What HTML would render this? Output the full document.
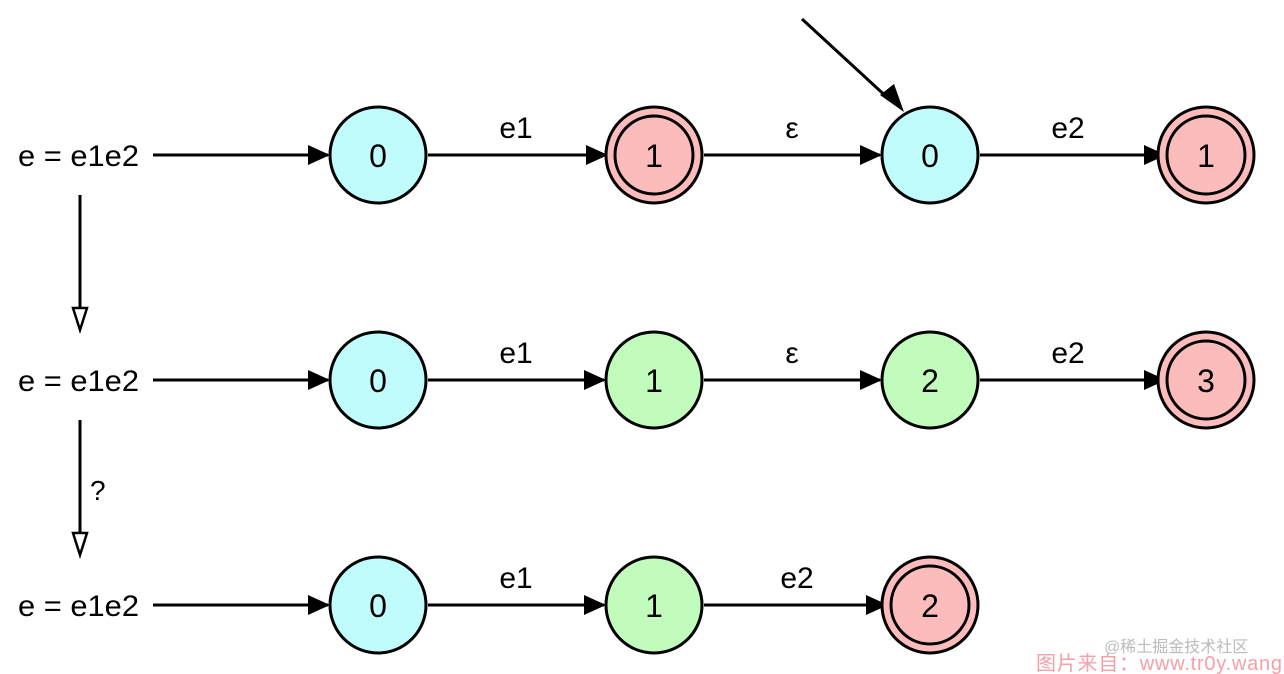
<!DOCTYPE html>
<html><head><meta charset="utf-8"><style>
html,body{margin:0;padding:0;background:#fff;}
svg{display:block;}
text{font-family:"Liberation Sans","Noto Sans CJK SC",sans-serif;}
</style></head><body>
<svg width="1284" height="674" viewBox="0 0 1284 674" xmlns="http://www.w3.org/2000/svg">
<g stroke="#000" stroke-width="3" fill="none">
<line x1="153" y1="155" x2="328" y2="155"/>
<line x1="428" y1="155" x2="604" y2="155"/>
<line x1="704" y1="155" x2="880" y2="155"/>
<line x1="980" y1="155" x2="1160" y2="155"/>
<line x1="153" y1="380" x2="328" y2="380"/>
<line x1="428" y1="380" x2="604" y2="380"/>
<line x1="704" y1="380" x2="880" y2="380"/>
<line x1="980" y1="380" x2="1160" y2="380"/>
<line x1="153" y1="605" x2="328" y2="605"/>
<line x1="428" y1="605" x2="604" y2="605"/>
<line x1="704" y1="605" x2="884" y2="605"/>
<line x1="802" y1="19" x2="890" y2="100"/>
<line x1="80" y1="195" x2="80" y2="310"/>
<line x1="80" y1="420" x2="80" y2="535"/>
</g>
<g fill="#000">
<path d="M308,145 L330,155 L308,165z"/>
<path d="M586,145 L608,155 L586,165z"/>
<path d="M860,145 L882,155 L860,165z"/>
<path d="M1144,145 L1166,155 L1144,165z"/>
<path d="M308,370 L330,380 L308,390z"/>
<path d="M584,370 L606,380 L584,390z"/>
<path d="M860,370 L882,380 L860,390z"/>
<path d="M1144,370 L1166,380 L1144,390z"/>
<path d="M308,595 L330,605 L308,615z"/>
<path d="M584,595 L606,605 L584,615z"/>
<path d="M866,595 L888,605 L866,615z"/>
<path d="M880,95 L904,112 L894,84z"/>
</g>
<g fill="#fff" stroke="#000" stroke-width="2.5">
<path d="M73,308 L87,308 L80,330z"/>
<path d="M73,533 L87,533 L80,555z"/>
</g>
<g stroke="#000" stroke-width="3">
<circle cx="378" cy="155" r="48" fill="#c0fcfc"/>
<circle cx="654" cy="155" r="48" fill="#fdbcbc"/>
<circle cx="654" cy="155" r="39" fill="#fdbcbc"/>
<circle cx="930" cy="155" r="48" fill="#c0fcfc"/>
<circle cx="1206" cy="155" r="48" fill="#fdbcbc"/>
<circle cx="1206" cy="155" r="39" fill="#fdbcbc"/>
<circle cx="378" cy="380" r="48" fill="#c0fcfc"/>
<circle cx="654" cy="380" r="48" fill="#c2fcbc"/>
<circle cx="930" cy="380" r="48" fill="#c2fcbc"/>
<circle cx="1206" cy="380" r="48" fill="#fdbcbc"/>
<circle cx="1206" cy="380" r="39" fill="#fdbcbc"/>
<circle cx="378" cy="605" r="48" fill="#c0fcfc"/>
<circle cx="654" cy="605" r="48" fill="#c2fcbc"/>
<circle cx="930" cy="605" r="48" fill="#fdbcbc"/>
<circle cx="930" cy="605" r="39" fill="#fdbcbc"/>
</g>
<g font-size="32" fill="#000" text-anchor="middle">
<text x="378" y="167">0</text><text x="654" y="167">1</text><text x="930" y="167">0</text><text x="1206" y="167">1</text>
<text x="378" y="392">0</text><text x="654" y="392">1</text><text x="930" y="392">2</text><text x="1206" y="392">3</text>
<text x="378" y="617">0</text><text x="654" y="617">1</text><text x="930" y="617">2</text>
</g>
<g font-size="30" fill="#000" text-anchor="middle">
<text x="516" y="138">e1</text><text x="792" y="138">ε</text><text x="1068" y="138">e2</text>
<text x="516" y="363">e1</text><text x="792" y="363">ε</text><text x="1068" y="363">e2</text>
<text x="516" y="588">e1</text><text x="797" y="588">e2</text>
</g>
<g font-size="30" fill="#000">
<text x="18" y="166" textLength="121" lengthAdjust="spacingAndGlyphs">e = e1e2</text>
<text x="18" y="391" textLength="121" lengthAdjust="spacingAndGlyphs">e = e1e2</text>
<text x="18" y="616" textLength="121" lengthAdjust="spacingAndGlyphs">e = e1e2</text>
<text x="90" y="500" font-size="28">?</text>
</g>
<text x="1104" y="652" font-size="16" fill="#bbb">@稀土掘金技术社区</text>
<text x="1036" y="670" font-size="20" fill="#f5a0a8" textLength="246">图片来自：www.tr0y.wang</text>
</svg>
</body></html>
